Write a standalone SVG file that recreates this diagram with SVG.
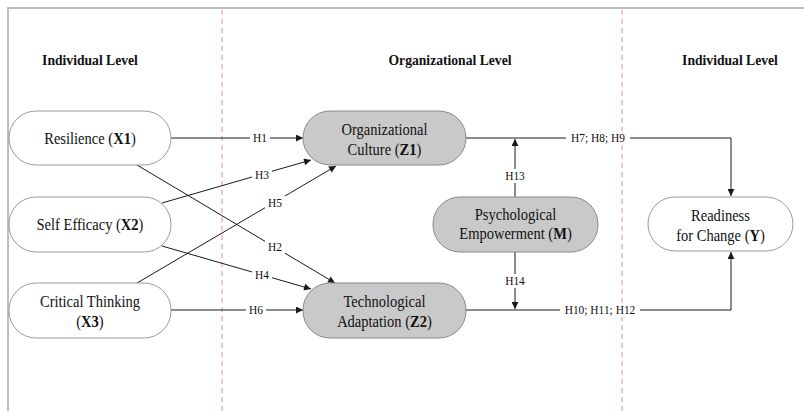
<svg xmlns="http://www.w3.org/2000/svg" width="804" height="411" viewBox="0 0 804 411">
<defs>
<style>
.frame{stroke:#bdbdbd;stroke-width:2;fill:none}
.divider{stroke:#e58a9c;stroke-width:1;stroke-dasharray:5 4;fill:none}
.conn{stroke:#1a1a1a;stroke-width:1;fill:none}
.open{fill:#ffffff;stroke:#9a9a9a;stroke-width:1}
.shaded{fill:#c9c9c9;stroke:#8a8a8a;stroke-width:1}
text{font-family:"Liberation Serif","Times New Roman",serif;fill:#111;text-anchor:middle;transform-box:fill-box;transform-origin:center;transform:scaleX(0.88)}
.head{font-weight:bold;font-size:15.5px}
.nt{font-size:16.5px}
.lbl{font-size:13px}
.bg{fill:#ffffff}
</style>
<marker id="arr" viewBox="0 0 10 10" refX="10" refY="5" markerWidth="9" markerHeight="7" markerUnits="userSpaceOnUse" orient="auto">
<path d="M0,0 L10,5 L0,10 z" fill="#1a1a1a"/>
</marker>
</defs>
<rect width="804" height="411" fill="#ffffff"/>
<g id="frame">
<line class="frame" x1="7" y1="8" x2="804" y2="8"/>
<line class="frame" x1="8" y1="8" x2="8" y2="411"/>
<line class="divider" x1="222" y1="10" x2="222" y2="411"/>
<line class="divider" x1="622" y1="10" x2="622" y2="411"/>
</g>
<g id="headings">
<text class="head" x="90" y="65">Individual Level</text>
<text class="head" x="450" y="65">Organizational Level</text>
<text class="head" x="730" y="65">Individual Level</text>
</g>
<g id="connectors">
<line class="conn" x1="171" y1="138" x2="303" y2="138" marker-end="url(#arr)"/>
<line class="conn" x1="137" y1="165" x2="335" y2="283" marker-end="url(#arr)"/>
<line class="conn" x1="162" y1="203" x2="311" y2="160" marker-end="url(#arr)"/>
<line class="conn" x1="162" y1="246" x2="311" y2="289" marker-end="url(#arr)"/>
<line class="conn" x1="137" y1="283" x2="336" y2="166" marker-end="url(#arr)"/>
<line class="conn" x1="171" y1="310" x2="303" y2="310" marker-end="url(#arr)"/>
<polyline class="conn" points="466,138 731,138 731,196" marker-end="url(#arr)"/>
<polyline class="conn" points="466,310 731,310 731,252" marker-end="url(#arr)"/>
<line class="conn" x1="515" y1="197" x2="515" y2="139" marker-end="url(#arr)"/>
<line class="conn" x1="515" y1="252" x2="515" y2="309" marker-end="url(#arr)"/>
<g id="labels">
<rect class="bg" x="250" y="131" width="20" height="14"/><text class="lbl" x="260" y="142.5">H1</text>
<rect class="bg" x="265" y="240" width="20" height="14"/><text class="lbl" x="275" y="251.5">H2</text>
<rect class="bg" x="252" y="168" width="20" height="14"/><text class="lbl" x="262" y="179.5">H3</text>
<rect class="bg" x="252" y="268" width="20" height="14"/><text class="lbl" x="262" y="279.5">H4</text>
<rect class="bg" x="265" y="196" width="20" height="14"/><text class="lbl" x="275" y="207.5">H5</text>
<rect class="bg" x="246" y="303" width="20" height="14"/><text class="lbl" x="256" y="314.5">H6</text>
<rect class="bg" x="566" y="131" width="64" height="14"/><text class="lbl" x="598" y="142.5">H7; H8; H9</text>
<rect class="bg" x="560" y="303" width="80" height="14"/><text class="lbl" x="600" y="314.5">H10; H11; H12</text>
<rect class="bg" x="503" y="169" width="24" height="14"/><text class="lbl" x="515" y="180.5">H13</text>
<rect class="bg" x="503" y="274" width="24" height="14"/><text class="lbl" x="515" y="285.5">H14</text>
</g>
</g>
<g id="X1">
<rect class="open" x="9" y="111" width="162" height="54" rx="27"/>
<text class="nt" x="90" y="144">Resilience (<tspan font-weight="bold">X1</tspan>)</text>
</g>
<g id="X2">
<rect class="open" x="9" y="197" width="162" height="55" rx="27"/>
<text class="nt" x="90" y="230">Self Efficacy (<tspan font-weight="bold">X2</tspan>)</text>
</g>
<g id="X3">
<rect class="open" x="9" y="283" width="162" height="55" rx="27"/>
<text class="nt" x="90" y="307">Critical Thinking</text>
<text class="nt" x="90" y="327">(<tspan font-weight="bold">X3</tspan>)</text>
</g>
<g id="Z1">
<rect class="shaded" x="303" y="111" width="163" height="54" rx="27"/>
<text class="nt" x="384.5" y="135">Organizational</text>
<text class="nt" x="384.5" y="155">Culture (<tspan font-weight="bold">Z1</tspan>)</text>
</g>
<g id="Z2">
<rect class="shaded" x="303" y="283" width="163" height="55" rx="27"/>
<text class="nt" x="384.5" y="307">Technological</text>
<text class="nt" x="384.5" y="327">Adaptation (<tspan font-weight="bold">Z2</tspan>)</text>
</g>
<g id="M">
<rect class="shaded" x="433" y="197" width="165" height="55" rx="27"/>
<text class="nt" x="515.5" y="220">Psychological</text>
<text class="nt" x="515.5" y="239">Empowerment (<tspan font-weight="bold">M</tspan>)</text>
</g>
<g id="Y">
<rect class="open" x="648" y="197" width="145" height="54" rx="27"/>
<text class="nt" x="720.5" y="221">Readiness</text>
<text class="nt" x="720.5" y="241">for Change (<tspan font-weight="bold">Y</tspan>)</text>
</g>
</svg>
